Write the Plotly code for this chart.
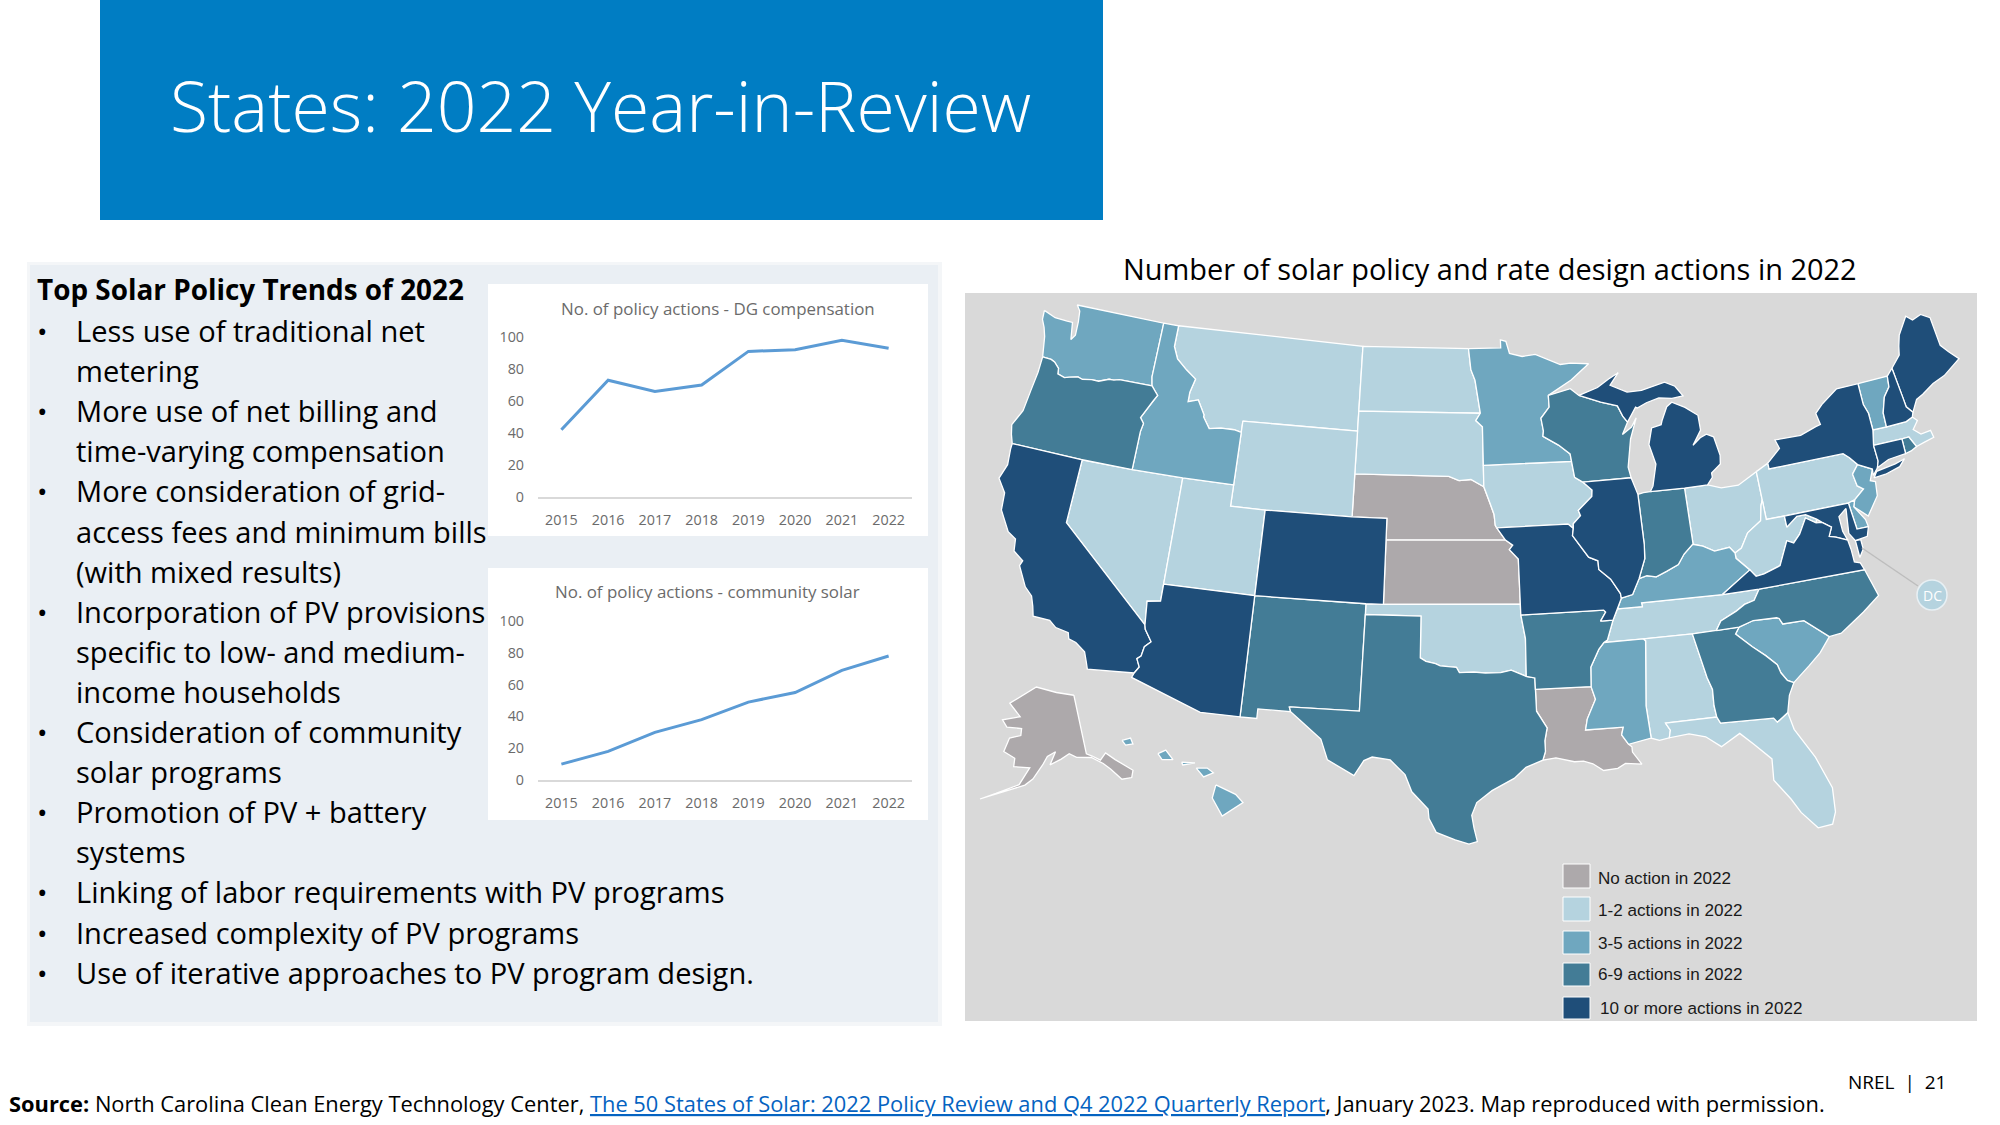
import math
import plotly.graph_objects as go

W, H = 2000, 1125

# ---------- line chart data ----------
years = ["2015","2016","2017","2018","2019","2020","2021","2022"]
dg_compensation = [42,73,66,70,91,92,98,93]
community_solar = [10,18,30,38,49,55,69,78]

# ---------- map categories ----------
no_action = ["NE","KS","LA","AK"]
actions_1_2 = ["MT","ND","SD","WY","NV","UT","IA","OK","OH","PA","WV","TN","AL","FL","MA"]
actions_3_5 = ["WA","ID","MN","KY","MS","SC","NJ","DE","VT","HI"]
actions_6_9 = ["OR","WI","IN","NM","TX","AR","GA","NC","RI"]
actions_10 = ["CA","AZ","CO","MO","IL","MI","NY","ME","NH","CT","MD","VA"]
legend_labels = ["No action in 2022","1-2 actions in 2022","3-5 actions in 2022","6-9 actions in 2022","10 or more actions in 2022"]

# ---------- state outlines (lon, lat) ----------
WA = [(-124.7,48.38),(-123.9,48.17),(-123.1,48.15),(-122.75,48.15),(-122.55,47.35),(-122.35,47.6),(-122.4,48.25),(-122.5,48.75),(-122.76,49.0),(-117.03,49.0),(-117.04,46.42),(-116.92,46.0),(-118.98,46.0),(-119.3,45.93),(-119.6,45.92),(-120.2,45.73),(-120.65,45.73),(-121.2,45.65),(-121.5,45.72),(-122.0,45.62),(-122.3,45.55),(-122.75,45.65),(-122.8,45.9),(-123.15,46.15),(-123.4,46.23),(-123.95,46.25),(-124.05,46.7),(-124.1,46.95),(-124.2,47.2),(-124.4,47.6),(-124.65,47.95)]
OR = [(-123.95,46.25),(-123.4,46.23),(-123.15,46.15),(-122.8,45.9),(-122.75,45.65),(-122.3,45.55),(-122.0,45.62),(-121.5,45.72),(-121.2,45.65),(-120.65,45.73),(-120.2,45.73),(-119.6,45.92),(-119.3,45.93),(-118.98,46.0),(-116.92,46.0),(-116.7,45.8),(-116.46,45.6),(-116.67,45.3),(-116.85,45.0),(-117.2,44.45),(-116.95,44.2),(-117.03,43.8),(-117.03,42.0),(-120.0,42.0),(-124.2,42.0),(-124.4,42.4),(-124.55,42.84),(-124.15,43.6),(-124.05,44.6),(-123.95,45.5)]
CA = [(-124.2,42.0),(-120.0,42.0),(-120.0,39.0),(-114.63,35.0),(-114.57,34.8),(-114.15,34.27),(-114.45,34.0),(-114.53,33.55),(-114.72,33.4),(-114.52,33.03),(-114.72,32.72),(-117.12,32.53),(-117.25,32.85),(-117.45,33.3),(-118.0,33.65),(-118.4,33.75),(-118.5,34.03),(-119.2,34.15),(-119.6,34.42),(-120.5,34.45),(-120.65,34.9),(-120.85,35.35),(-121.3,35.7),(-121.9,36.6),(-121.8,36.85),(-122.4,37.2),(-122.5,37.75),(-123.0,38.0),(-123.7,38.9),(-123.8,39.7),(-124.35,40.3),(-124.1,41.0),(-124.2,41.75)]
NV = [(-120.0,42.0),(-117.03,42.0),(-114.04,42.0),(-114.04,37.0),(-114.04,36.2),(-114.75,36.1),(-114.63,35.0),(-120.0,39.0)]
ID = [(-117.03,49.0),(-116.05,49.0),(-116.05,48.0),(-115.7,47.45),(-115.0,47.0),(-114.35,46.65),(-114.55,46.0),(-114.55,45.55),(-113.95,45.7),(-113.45,45.05),(-113.45,44.95),(-113.0,44.45),(-112.3,44.55),(-111.5,44.55),(-111.05,44.47),(-111.05,42.0),(-114.04,42.0),(-117.03,42.0),(-117.03,43.8),(-116.95,44.2),(-117.2,44.45),(-116.85,45.0),(-116.67,45.3),(-116.46,45.6),(-116.7,45.8),(-116.92,46.0),(-117.04,46.42)]
MT = [(-116.05,49.0),(-104.05,49.0),(-104.05,45.94),(-104.05,45.0),(-111.05,45.0),(-111.05,44.47),(-111.5,44.55),(-112.3,44.55),(-113.0,44.45),(-113.45,44.95),(-113.45,45.05),(-113.95,45.7),(-114.55,45.55),(-114.55,46.0),(-114.35,46.65),(-115.0,47.0),(-115.7,47.45),(-116.05,48.0)]
WY = [(-111.05,45.0),(-104.05,45.0),(-104.05,43.0),(-104.05,41.0),(-109.05,41.0),(-111.05,41.0)]
UT = [(-114.04,42.0),(-111.05,42.0),(-111.05,41.0),(-109.05,41.0),(-109.05,37.0),(-114.04,37.0)]
AZ = [(-114.04,37.0),(-109.05,37.0),(-109.05,31.33),(-111.07,31.33),(-114.81,32.5),(-114.72,32.72),(-114.52,33.03),(-114.72,33.4),(-114.53,33.55),(-114.45,34.0),(-114.15,34.27),(-114.57,34.8),(-114.63,35.0),(-114.75,36.1),(-114.04,36.2)]
CO = [(-109.05,41.0),(-104.05,41.0),(-102.05,41.0),(-102.05,40.0),(-102.05,37.0),(-103.0,37.0),(-109.05,37.0)]
NM = [(-109.05,37.0),(-103.0,37.0),(-103.0,36.5),(-103.05,32.0),(-106.62,32.0),(-106.53,31.78),(-108.2,31.78),(-108.2,31.33),(-109.05,31.33)]
TX = [(-106.62,32.0),(-103.05,32.0),(-103.0,36.5),(-100.0,36.5),(-100.0,34.56),(-99.7,34.4),(-99.2,34.3),(-98.95,34.2),(-98.1,34.13),(-97.95,33.88),(-97.2,33.9),(-96.6,33.85),(-95.8,33.85),(-95.25,33.95),(-94.48,33.64),(-94.04,33.55),(-94.04,33.02),(-94.04,32.0),(-93.55,31.2),(-93.7,30.6),(-93.7,30.1),(-93.85,29.7),(-94.7,29.4),(-95.3,28.9),(-96.4,28.35),(-97.15,27.8),(-97.4,27.2),(-97.3,26.6),(-97.15,25.96),(-97.55,25.85),(-98.2,26.05),(-99.1,26.4),(-99.45,27.05),(-99.5,27.5),(-100.3,28.3),(-100.65,29.1),(-101.4,29.77),(-102.3,29.88),(-102.7,29.7),(-103.15,28.98),(-104.5,29.65),(-104.9,30.6),(-106.0,31.4),(-106.53,31.78)]
OK = [(-103.0,37.0),(-102.05,37.0),(-94.62,37.0),(-94.62,36.5),(-94.43,35.4),(-94.48,33.64),(-95.25,33.95),(-95.8,33.85),(-96.6,33.85),(-97.2,33.9),(-97.95,33.88),(-98.1,34.13),(-98.95,34.2),(-99.2,34.3),(-99.7,34.4),(-100.0,34.56),(-100.0,36.5),(-103.0,36.5)]
KS = [(-102.05,40.0),(-95.3,40.0),(-94.9,39.75),(-95.1,39.55),(-94.62,39.1),(-94.62,37.0),(-102.05,37.0)]
NE = [(-104.05,43.0),(-98.5,43.0),(-97.9,42.8),(-97.2,42.85),(-96.45,42.5),(-96.1,41.7),(-95.9,41.2),(-95.85,40.7),(-95.77,40.58),(-95.3,40.0),(-102.05,40.0),(-102.05,41.0),(-104.05,41.0)]
SD = [(-104.05,45.94),(-96.56,45.94),(-96.85,45.6),(-96.45,45.3),(-96.45,43.5),(-96.45,42.5),(-97.2,42.85),(-97.9,42.8),(-98.5,43.0),(-104.05,43.0),(-104.05,45.0)]
ND = [(-104.05,49.0),(-97.23,49.0),(-97.1,48.0),(-96.85,47.5),(-96.56,45.94),(-104.05,45.94)]
MN = [(-97.23,49.0),(-95.15,49.0),(-95.15,49.38),(-94.8,49.3),(-94.6,48.72),(-93.8,48.55),(-92.95,48.62),(-92.0,48.3),(-91.4,48.07),(-90.75,48.1),(-89.6,48.0),(-90.8,47.3),(-92.1,46.75),(-92.3,46.65),(-92.3,46.1),(-92.85,45.6),(-92.75,45.0),(-92.8,44.75),(-91.9,44.3),(-91.25,43.85),(-91.2,43.5),(-96.45,43.5),(-96.45,45.3),(-96.85,45.6),(-96.56,45.94),(-96.85,47.5),(-97.1,48.0)]
IA = [(-96.45,43.5),(-91.2,43.5),(-91.1,42.75),(-90.65,42.5),(-90.15,42.1),(-90.2,41.8),(-91.05,41.2),(-90.95,40.95),(-91.4,40.6),(-91.42,40.38),(-91.7,40.6),(-95.77,40.58),(-95.85,40.7),(-95.9,41.2),(-96.1,41.7),(-96.45,42.5)]
MO = [(-95.77,40.58),(-91.7,40.6),(-91.42,40.38),(-91.5,40.05),(-91.0,39.4),(-90.7,39.0),(-90.2,38.8),(-90.2,38.4),(-89.6,37.9),(-89.15,37.2),(-89.13,36.98),(-89.4,36.5),(-89.7,36.0),(-90.37,36.0),(-90.05,36.4),(-90.15,36.5),(-94.62,36.5),(-94.62,37.0),(-94.62,39.1),(-95.1,39.55),(-94.9,39.75),(-95.3,40.0)]
AR = [(-94.62,36.5),(-90.15,36.5),(-90.05,36.4),(-90.37,36.0),(-89.7,36.0),(-90.1,35.1),(-90.3,35.0),(-90.6,34.7),(-91.1,33.9),(-91.17,33.0),(-94.04,33.02),(-94.04,33.55),(-94.48,33.64),(-94.43,35.4)]
LA = [(-94.04,33.02),(-91.17,33.0),(-91.0,32.4),(-91.5,31.5),(-91.63,31.0),(-89.73,31.0),(-89.85,30.65),(-89.55,30.18),(-89.4,30.05),(-89.4,29.8),(-89.0,29.2),(-89.8,29.3),(-90.2,29.1),(-90.9,29.05),(-91.4,29.4),(-91.85,29.55),(-92.3,29.55),(-93.2,29.78),(-93.85,29.7),(-93.7,30.1),(-93.7,30.6),(-93.55,31.2),(-94.04,32.0)]
MS = [(-91.17,33.0),(-91.1,33.9),(-90.6,34.7),(-90.3,35.0),(-88.2,35.0),(-88.1,34.9),(-88.47,31.9),(-88.4,30.37),(-89.55,30.18),(-89.85,30.65),(-89.73,31.0),(-91.63,31.0),(-91.5,31.5),(-91.0,32.4)]
AL = [(-88.2,35.0),(-85.6,34.98),(-85.18,32.87),(-85.0,32.3),(-85.05,31.55),(-85.0,31.0),(-87.6,31.0),(-87.4,30.65),(-87.5,30.3),(-88.0,30.23),(-88.4,30.37),(-88.47,31.9),(-88.1,34.9)]
TN = [(-90.3,35.0),(-90.1,35.1),(-89.7,36.0),(-89.4,36.5),(-88.05,36.5),(-88.07,36.68),(-83.68,36.6),(-81.68,36.59),(-82.05,36.12),(-82.6,36.0),(-83.1,35.75),(-84.0,35.4),(-84.32,34.99),(-85.6,34.98),(-88.2,35.0)]
KY = [(-89.4,36.5),(-89.13,36.98),(-88.5,37.1),(-88.05,37.8),(-87.6,37.9),(-87.1,37.8),(-86.5,38.0),(-85.8,38.25),(-85.4,38.7),(-84.85,39.1),(-84.3,38.95),(-83.7,38.65),(-82.85,38.72),(-82.6,38.42),(-82.6,38.17),(-81.97,37.54),(-83.68,36.6),(-88.07,36.68),(-88.05,36.5)]
IL = [(-90.65,42.5),(-87.8,42.5),(-87.53,41.7),(-87.53,39.35),(-87.6,38.7),(-88.05,37.8),(-88.5,37.1),(-89.13,36.98),(-89.15,37.2),(-89.6,37.9),(-90.2,38.4),(-90.2,38.8),(-90.7,39.0),(-91.0,39.4),(-91.5,40.05),(-91.42,40.38),(-91.4,40.6),(-90.95,40.95),(-91.05,41.2),(-90.2,41.8),(-90.15,42.1)]
IN = [(-87.53,41.7),(-87.2,41.75),(-86.8,41.76),(-84.8,41.73),(-84.82,39.1),(-84.85,39.1),(-85.4,38.7),(-85.8,38.25),(-86.5,38.0),(-87.1,37.8),(-87.6,37.9),(-88.05,37.8),(-87.6,38.7),(-87.53,39.35)]
OH = [(-84.8,41.73),(-83.45,41.73),(-82.7,41.5),(-81.7,41.5),(-80.52,41.98),(-80.52,40.64),(-80.65,40.4),(-80.85,39.7),(-81.7,39.25),(-82.2,38.6),(-82.6,38.42),(-82.85,38.72),(-83.7,38.65),(-84.3,38.95),(-84.82,39.1)]
MI_lower = [(-86.8,41.76),(-84.8,41.73),(-83.45,41.73),(-83.1,42.05),(-83.1,42.25),(-82.5,42.6),(-82.42,43.0),(-82.6,43.9),(-83.0,44.07),(-83.4,43.95),(-83.9,43.65),(-83.3,44.3),(-83.3,45.0),(-84.0,45.45),(-84.75,45.78),(-85.1,45.6),(-85.5,45.0),(-85.6,44.8),(-86.2,44.7),(-86.5,43.95),(-86.25,43.0),(-86.6,42.0)]
MI_upper = [(-90.4,46.55),(-89.2,46.85),(-88.45,47.2),(-87.8,47.45),(-88.4,46.9),(-87.4,46.5),(-86.5,46.5),(-85.0,46.75),(-84.4,46.5),(-84.0,46.0),(-84.7,45.95),(-85.5,46.05),(-86.3,45.9),(-86.9,45.7),(-87.0,45.75),(-87.6,45.1),(-87.85,45.4),(-88.1,45.9),(-89.1,46.15)]
WI = [(-92.3,46.65),(-90.9,46.9),(-90.4,46.55),(-89.1,46.15),(-88.1,45.9),(-87.85,45.4),(-87.6,45.1),(-88.0,44.55),(-87.4,44.85),(-87.05,45.25),(-87.55,44.3),(-87.9,43.0),(-87.8,42.5),(-90.65,42.5),(-91.1,42.75),(-91.2,43.5),(-91.25,43.85),(-91.9,44.3),(-92.8,44.75),(-92.75,45.0),(-92.85,45.6),(-92.3,46.1)]
PA = [(-80.52,41.98),(-79.76,42.27),(-79.76,42.0),(-75.35,42.0),(-75.05,41.75),(-74.7,41.36),(-75.13,40.98),(-75.05,40.4),(-74.75,40.2),(-75.4,39.8),(-75.79,39.72),(-79.48,39.72),(-80.52,39.72),(-80.52,40.64)]
NY_main = [(-79.76,42.27),(-78.9,42.85),(-79.05,43.27),(-77.5,43.25),(-76.5,43.5),(-76.2,43.55),(-76.3,44.1),(-75.8,44.45),(-74.7,45.0),(-73.35,45.0),(-73.4,44.0),(-73.25,43.55),(-73.28,42.75),(-73.5,42.05),(-73.5,41.3),(-73.65,41.0),(-74.0,40.7),(-73.95,41.0),(-74.7,41.36),(-75.05,41.75),(-75.35,42.0),(-79.76,42.0)]
NY_long_island = [(-74.0,40.58),(-73.75,40.85),(-72.6,40.98),(-72.0,41.1),(-72.4,40.8),(-73.3,40.62)]
VT = [(-73.35,45.0),(-71.5,45.0),(-71.6,44.5),(-72.05,44.1),(-72.4,43.4),(-72.46,42.73),(-73.28,42.75),(-73.25,43.55),(-73.4,44.0)]
NH = [(-71.5,45.0),(-71.08,45.3),(-71.0,43.9),(-70.98,43.4),(-70.7,43.07),(-70.82,42.87),(-71.25,42.74),(-72.46,42.73),(-72.4,43.4),(-72.05,44.1),(-71.6,44.5)]
ME = [(-71.08,45.3),(-70.4,45.8),(-70.25,46.2),(-70.0,46.7),(-69.23,47.46),(-68.9,47.2),(-68.3,47.35),(-67.8,47.07),(-67.8,45.7),(-67.45,45.3),(-67.0,44.85),(-68.2,44.3),(-69.0,44.1),(-69.8,43.75),(-70.25,43.6),(-70.7,43.07),(-70.98,43.4),(-71.0,43.9)]
MA = [(-73.5,42.05),(-73.28,42.75),(-72.46,42.73),(-71.25,42.74),(-70.82,42.87),(-70.6,42.65),(-71.0,42.3),(-70.65,42.0),(-70.05,42.05),(-70.0,41.7),(-70.6,41.6),(-71.12,41.5),(-71.38,42.02),(-71.8,42.02)]
RI = [(-71.8,42.02),(-71.38,42.02),(-71.12,41.5),(-71.5,41.37),(-71.85,41.32)]
CT = [(-73.5,42.05),(-71.8,42.02),(-71.85,41.32),(-72.9,41.25),(-73.65,41.0),(-73.5,41.3)]
NJ = [(-74.7,41.36),(-73.95,41.0),(-74.25,40.5),(-73.98,40.4),(-74.1,39.75),(-74.9,38.93),(-75.55,39.5),(-75.4,39.8),(-74.75,40.2),(-75.05,40.4),(-75.13,40.98)]
DE = [(-75.79,39.72),(-75.4,39.8),(-75.55,39.5),(-75.1,38.8),(-75.05,38.45),(-75.7,38.46)]
MD = [(-79.48,39.72),(-75.79,39.72),(-75.7,38.46),(-75.05,38.45),(-75.25,38.03),(-75.95,37.95),(-76.2,38.35),(-76.0,39.5),(-76.5,39.2),(-76.5,38.5),(-76.35,38.05),(-76.95,38.3),(-77.3,38.4),(-77.05,38.8),(-77.5,39.1),(-77.75,39.3),(-78.3,39.6),(-78.8,39.6),(-79.48,39.2)]
VA_main = [(-83.68,36.6),(-81.68,36.59),(-75.87,36.55),(-76.0,36.9),(-76.3,37.0),(-76.3,37.6),(-76.35,38.05),(-76.95,38.3),(-77.3,38.4),(-77.05,38.8),(-77.5,39.1),(-77.83,39.13),(-78.35,39.45),(-78.87,38.77),(-79.3,38.42),(-79.65,38.58),(-80.3,37.5),(-81.25,37.25),(-81.7,37.2),(-81.97,37.54)]
VA_shore = [(-75.65,37.95),(-75.95,37.95),(-75.95,37.15),(-75.65,37.5)]
WV = [(-80.52,40.64),(-80.52,39.72),(-79.48,39.72),(-79.48,39.2),(-78.8,39.6),(-78.3,39.6),(-77.75,39.3),(-77.83,39.13),(-78.35,39.45),(-78.87,38.77),(-79.3,38.42),(-79.65,38.58),(-80.3,37.5),(-81.25,37.25),(-81.7,37.2),(-81.97,37.54),(-82.6,38.17),(-82.6,38.42),(-82.2,38.6),(-81.7,39.25),(-80.85,39.7),(-80.65,40.4)]
NC = [(-81.68,36.59),(-75.87,36.55),(-75.5,35.25),(-76.5,34.65),(-77.9,33.9),(-78.55,33.85),(-79.67,34.8),(-80.8,34.82),(-80.93,35.1),(-81.05,35.15),(-82.3,35.2),(-83.1,35.0),(-84.32,34.99),(-84.0,35.4),(-83.1,35.75),(-82.6,36.0),(-82.05,36.12)]
SC = [(-83.1,35.0),(-82.3,35.2),(-81.05,35.15),(-80.93,35.1),(-80.8,34.82),(-79.67,34.8),(-78.55,33.85),(-79.2,33.2),(-79.9,32.7),(-80.85,32.05),(-81.15,32.2),(-81.4,32.6),(-81.5,33.0),(-82.0,33.5),(-82.6,34.0),(-83.35,34.7)]
GA = [(-85.6,34.98),(-84.32,34.99),(-83.1,35.0),(-83.35,34.7),(-82.6,34.0),(-82.0,33.5),(-81.5,33.0),(-81.4,32.6),(-81.15,32.2),(-80.85,32.05),(-81.2,31.5),(-81.45,30.72),(-82.05,30.36),(-82.2,30.57),(-84.86,30.7),(-85.0,31.0),(-85.05,31.55),(-85.0,32.3),(-85.18,32.87)]
FL = [(-87.6,31.0),(-85.0,31.0),(-84.86,30.7),(-82.2,30.57),(-82.05,30.36),(-81.45,30.72),(-81.3,29.9),(-80.55,28.45),(-80.05,26.9),(-80.15,25.75),(-80.4,25.2),(-81.1,25.15),(-81.75,26.0),(-82.1,26.7),(-82.75,27.7),(-82.65,28.7),(-83.4,29.5),(-84.0,30.1),(-85.0,29.6),(-85.7,30.15),(-86.5,30.38),(-87.5,30.3),(-87.4,30.65)]
AK = [(-141.0,69.6),(-141.0,60.3),(-139.5,59.8),(-137.5,58.9),(-135.5,59.8),(-133.5,58.4),(-130.0,56.0),(-131.0,55.0),(-133.5,55.2),(-135.5,57.2),(-137.0,58.3),(-139.8,59.6),(-144.0,60.0),(-146.0,60.7),(-148.5,60.0),(-151.8,59.2),(-150.0,61.2),(-152.5,60.5),(-153.9,59.2),(-156.5,57.0),(-158.5,56.0),(-163.0,54.8),(-166.0,53.9),(-169.0,52.9),(-165.5,54.2),(-162.5,55.3),(-160.0,56.0),(-157.5,58.7),(-162.0,58.7),(-162.0,60.0),(-165.5,60.8),(-164.5,63.0),(-161.0,63.6),(-161.0,64.7),(-166.0,64.6),(-168.0,65.6),(-162.0,66.5),(-166.7,68.35),(-156.6,71.35),(-148.0,70.4)]
HI_big = [(-155.9,20.25),(-155.1,19.85),(-154.8,19.5),(-155.65,18.95),(-156.05,19.7)]
HI_maui = [(-156.7,20.95),(-156.25,20.95),(-156.0,20.75),(-156.4,20.58)]
HI_oahu = [(-158.27,21.55),(-157.95,21.7),(-157.65,21.3),(-158.1,21.3)]
HI_kauai = [(-159.75,22.1),(-159.4,22.2),(-159.3,21.95),(-159.6,21.9)]
HI_molokai = [(-157.3,21.2),(-156.75,21.17),(-157.25,21.08)]

# ---------- slide text ----------
title_text = "States: 2022 Year-in-Review"
map_title = "Number of solar policy and rate design actions in 2022"
trend_heading = "Top Solar Policy Trends of 2022"
trend_lines = [("•","Less use of traditional net"),("","metering"),("•","More use of net billing and"),("","time-varying compensation"),
 ("•","More consideration of grid-"),("","access fees and minimum bills"),("","(with mixed results)"),("•","Incorporation of PV provisions"),
 ("","specific to low- and medium-"),("","income households"),("•","Consideration of community"),("","solar programs"),("•","Promotion of PV + battery"),
 ("","systems"),("•","Linking of labor requirements with PV programs"),("•","Increased complexity of PV programs"),("•","Use of iterative approaches to PV program design.")]
source_text = ("<b>Source:</b> North Carolina Clean Energy Technology Center, <span style='color:#0563C1'><u>The 50 States of Solar: 2022 Policy Review and Q4 2022 Quarterly Report</u></span>, January 2023. Map reproduced with permission.")

outlines = dict(WA=[WA],OR=[OR],CA=[CA],NV=[NV],ID=[ID],MT=[MT],WY=[WY],UT=[UT],AZ=[AZ],CO=[CO],NM=[NM],TX=[TX],OK=[OK],KS=[KS],NE=[NE],SD=[SD],ND=[ND],MN=[MN],IA=[IA],MO=[MO],AR=[AR],LA=[LA],MS=[MS],AL=[AL],TN=[TN],KY=[KY],IL=[IL],IN=[IN],OH=[OH],MI=[MI_lower,MI_upper],WI=[WI],PA=[PA],NY=[NY_main,NY_long_island],VT=[VT],NH=[NH],ME=[ME],MA=[MA],RI=[RI],CT=[CT],NJ=[NJ],DE=[DE],MD=[MD],VA=[VA_main,VA_shore],WV=[WV],NC=[NC],SC=[SC],GA=[GA],FL=[FL],AK=[AK],HI=[HI_big,HI_maui,HI_oahu,HI_kauai,HI_molokai])

colors = ["#ADA9AB","#B5D3DF","#6FA7BF","#437C96","#1F4E79"]
BODY = "Open Sans"

def px(x): return x/W
def py(y): return 1-y/H

# ---------- Albers conic projection ----------
def albers(points, lon0, lat0, p1, p2):
    s1, s2 = math.radians(p1), math.radians(p2)
    n = (math.sin(s1)+math.sin(s2))/2
    c = math.cos(s1)**2 + 2*n*math.sin(s1)
    r0 = math.sqrt(c-2*n*math.sin(math.radians(lat0)))/n
    out = []
    for lon, lat in points:
        th = n*math.radians(lon-lon0)
        r = math.sqrt(c-2*n*math.sin(math.radians(lat)))/n
        out.append((r*math.sin(th), r0-r*math.cos(th)))
    return out

def bbox(rings):
    xs=[p[0] for r in rings for p in r]; ys=[p[1] for r in rings for p in r]
    return min(xs),max(xs),min(ys),max(ys)

MAP_BOX = (965,293,1977,1021)
lower48 = {s:[albers(r,-98.5,38.7,29.5,45.5) for r in rs] for s,rs in outlines.items() if s not in ("AK","HI")}
x0,x1,y0,y1 = bbox([r for rs in lower48.values() for r in rs])
L48_PX = (999,1959,305,844)
ux = (x1-x0)/(L48_PX[1]-L48_PX[0]); uy = (y1-y0)/(L48_PX[3]-L48_PX[2])
def ux_of(p): return x0+(p-L48_PX[0])*ux
def uy_of(p): return y1-(p-L48_PX[2])*uy

def fit(rings, box):
    a,b,c,d = bbox(rings)
    return [[(ux_of(box[0])+(x-a)/(b-a)*(box[1]-box[0])*ux, uy_of(box[3])+(y-c)/(d-c)*(box[3]-box[2])*uy) for x,y in r] for r in rings]

projected = dict(lower48)
projected["AK"] = fit([albers(r,-154,58.5,55,65) for r in outlines["AK"]], (980,1133,687,799))
projected["HI"] = fit([albers(r,-157,19.9,8,18) for r in outlines["HI"]], (1122,1243,738,816))

fig = go.Figure()
for group, color in zip([no_action, actions_1_2, actions_3_5, actions_6_9, actions_10], colors):
    for st in group:
        xs, ys = [], []
        for ring in projected[st]:
            ring = ring + ring[:1]
            xs += [p[0] for p in ring] + [None]
            ys += [p[1] for p in ring] + [None]
        fig.add_trace(go.Scatter(x=xs[:-1], y=ys[:-1], mode="lines", fill="toself", fillcolor=color,
                                 line=dict(color="white", width=1.3), name=st, hoverinfo="name", xaxis="x3", yaxis="y3"))

fig.add_trace(go.Scatter(x=years, y=dg_compensation, mode="lines", line=dict(color="#5B9BD5", width=3), xaxis="x", yaxis="y"))
fig.add_trace(go.Scatter(x=years, y=community_solar, mode="lines", line=dict(color="#5B9BD5", width=3), xaxis="x2", yaxis="y2"))

tick = dict(family=BODY, size=14.3, color="#6B6B6B")
def ax(x0,x1): return dict(domain=[px(x0),px(x1)], range=[-0.5,7.5], showgrid=False, zeroline=False, showline=True, linecolor="#D9D9D9", linewidth=1.5, tickfont=tick, ticks="", fixedrange=True, type="category", ticklabelstandoff=9, automargin=False)
def ay(y0,y1): return dict(domain=[py(y1),py(y0)], range=[0,100], tickvals=[0,20,40,60,80,100], showgrid=False, zeroline=False, showline=False, tickfont=tick, ticks="", fixedrange=True, ticklabelstandoff=13, automargin=False)

rects = [(100,0,1103,220,"#007DC3"),(27,262,942,1026,"#F4F6F8"),(30,265,938,1022,"#EAEFF4"),(488,284,928,536,"#FFFFFF"),(488,568,928,820,"#FFFFFF"),(965,293,1977,1021,"#D9D9D9")]
shapes=[dict(type="rect",xref="paper",yref="paper",x0=px(a),x1=px(c),y0=py(b),y1=py(d),fillcolor=e,line_width=0,layer="below") for a,b,c,d,e in rects]
swatch_y = [(864,888),(897,921),(931,954),(963,986),(997,1019)]
for (a,b),c in zip(swatch_y,colors):
    shapes.append(dict(type="rect",xref="paper",yref="paper",x0=px(1563),x1=px(1590),y0=py(a),y1=py(b),fillcolor=c,line=dict(color="white",width=1)))
shapes.append(dict(type="line",xref="paper",yref="paper",x0=px(1862),y0=py(548),x1=px(1918),y1=py(586),line=dict(color="#BDBDBD",width=1.5)))
shapes.append(dict(type="circle",xref="paper",yref="paper",x0=px(1917),x1=px(1947),y0=py(580),y1=py(610),fillcolor=colors[1],line=dict(color="#E8F0F4",width=1.5)))

anns=[]
def T(x,y,text,size,color="#000000",family=BODY,anchor="left",weight=None):
    f=dict(family=family,size=size,color=color)
    if weight: f["weight"]=weight
    anns.append(dict(xref="paper",yref="paper",x=px(x),y=py(y),text=text,showarrow=False,xanchor=anchor,yanchor="middle",font=f,align=anchor,borderpad=0,borderwidth=0))
T(600,105,title_text,69.7,"#FFFFFF",anchor="center",weight=300)
T(1490,269,map_title,28.95,anchor="center")
T(37,289,"<b>"+trend_heading+"</b>",27.9)
for i,(b,t) in enumerate(trend_lines):
    y=331+40.1*i
    if b: T(37,y,b,28)
    T(76,y,t,29.05)
T(718,308,"No. of policy actions - DG compensation",16.9,"#6B6B6B",anchor="center")
T(707,591,"No. of policy actions - community solar",16.9,"#6B6B6B",anchor="center")
for lab,x,y in zip(legend_labels,[1598,1598,1598,1598,1600],[878,910,943,974,1008]):
    T(x,y,lab,17.1,"#1A1A1A",family="Liberation Sans")
T(1932,595,"DC",14,"#FFFFFF",anchor="center")
T(1848,1082,"NREL  |  21",19,"#000000")
T(9,1103,source_text,21.85)

fig.update_layout(width=W,height=H,margin=dict(l=0,r=0,t=0,b=0,pad=0),paper_bgcolor="white",plot_bgcolor="rgba(0,0,0,0)",showlegend=False,shapes=shapes,annotations=anns,
  xaxis=ax(538,912),yaxis=ay(337,497),xaxis2=dict(ax(538,912),anchor="y2"),yaxis2=dict(ay(621,780),anchor="x2"),
  xaxis3=dict(domain=[px(MAP_BOX[0]),px(MAP_BOX[2])],range=[ux_of(MAP_BOX[0]),ux_of(MAP_BOX[2])],visible=False,fixedrange=True,automargin=False,anchor="y3"),
  yaxis3=dict(domain=[py(MAP_BOX[3]),py(MAP_BOX[1])],range=[uy_of(MAP_BOX[3]),uy_of(MAP_BOX[1])],visible=False,fixedrange=True,automargin=False,anchor="x3"))
fig.write_html("out.html", config=dict(displayModeBar=False), post_script="document.body.style.margin='0';")
